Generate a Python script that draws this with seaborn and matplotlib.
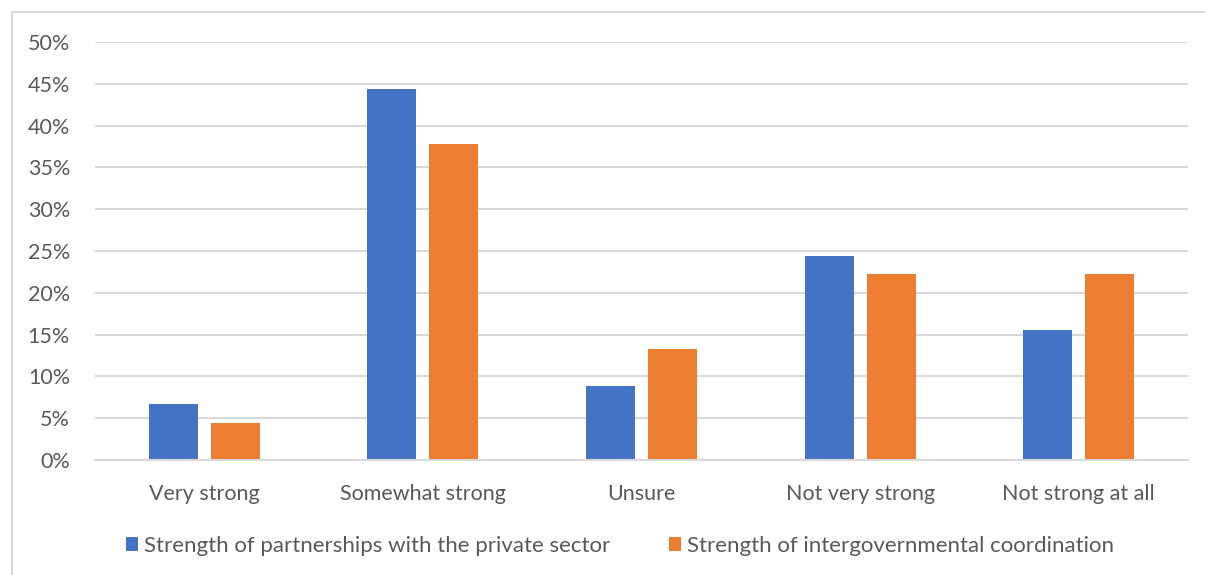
import matplotlib
matplotlib.use("Agg")
import matplotlib.pyplot as plt
from matplotlib.lines import Line2D
from matplotlib.ticker import PercentFormatter, MultipleLocator
import pandas as pd
import seaborn as sns

categories = ["Very strong", "Somewhat strong", "Unsure", "Not very strong", "Not strong at all"]
series_names = [
    "Strength of partnerships with the private sector",
    "Strength of intergovernmental coordination",
]
private_sector = [6.7, 44.4, 8.9, 24.4, 15.6]
intergovernmental = [4.4, 37.8, 13.3, 22.2, 22.2]
colors = ["#4472C4", "#ED7D31"]

df = pd.DataFrame({
    "category": categories * 2,
    "series": [series_names[0]] * len(categories) + [series_names[1]] * len(categories),
    "value": private_sector + intergovernmental,
})

sns.set_theme(style="white")
plt.rcParams["font.family"] = ["Lato", "DejaVu Sans"]

text_color = "#595959"
grid_color = "#d9d9d9"

fig = plt.figure(figsize=(12.05, 5.75), dpi=100)
ax = fig.add_axes([95 / 1205, 1 - 460 / 575, (1188 - 95) / 1205, (460 - 42) / 575])

sns.barplot(
    data=df, x="category", y="value", hue="series",
    order=categories, hue_order=series_names,
    palette=colors, width=0.567, gap=0.21,
    saturation=1, edgecolor="none", ax=ax, legend=True,
)

ax.set_ylim(0, 50)
ax.set_xlim(-0.5, len(categories) - 0.5)
ax.yaxis.set_major_locator(MultipleLocator(5))
ax.yaxis.set_major_formatter(PercentFormatter(decimals=0))
ax.grid(axis="y", color=grid_color, linewidth=1.5)
ax.set_axisbelow(True)
for side in ["left", "right", "top"]:
    ax.spines[side].set_visible(False)
ax.spines["bottom"].set_color(grid_color)
ax.spines["bottom"].set_linewidth(1.5)
ax.tick_params(axis="both", length=0, colors=text_color, labelsize=15.5)
ax.tick_params(axis="y", pad=18)
ax.tick_params(axis="x", pad=17)
ax.set_xlabel("")
ax.set_ylabel("")

handles, labels = ax.get_legend_handles_labels()
ax.get_legend().remove()
fig.legend(
    handles, labels, loc="center", bbox_to_anchor=(620 / 1205, 1 - 546 / 575),
    ncol=2, frameon=False, fontsize=16, labelcolor=text_color,
    handlelength=0.55, handleheight=0.55, handletextpad=0.3, columnspacing=2.6,
)

# chart area outline: top and left edges
x0 = 12 / 1205
y0 = 1 - 12 / 575
fig.add_artist(Line2D([x0, 1.0], [y0, y0], transform=fig.transFigure,
                      color=grid_color, linewidth=1.5))
fig.add_artist(Line2D([x0, x0], [0.0, y0], transform=fig.transFigure,
                      color=grid_color, linewidth=1.5))

fig.savefig("out.png", dpi=100, facecolor="white")
